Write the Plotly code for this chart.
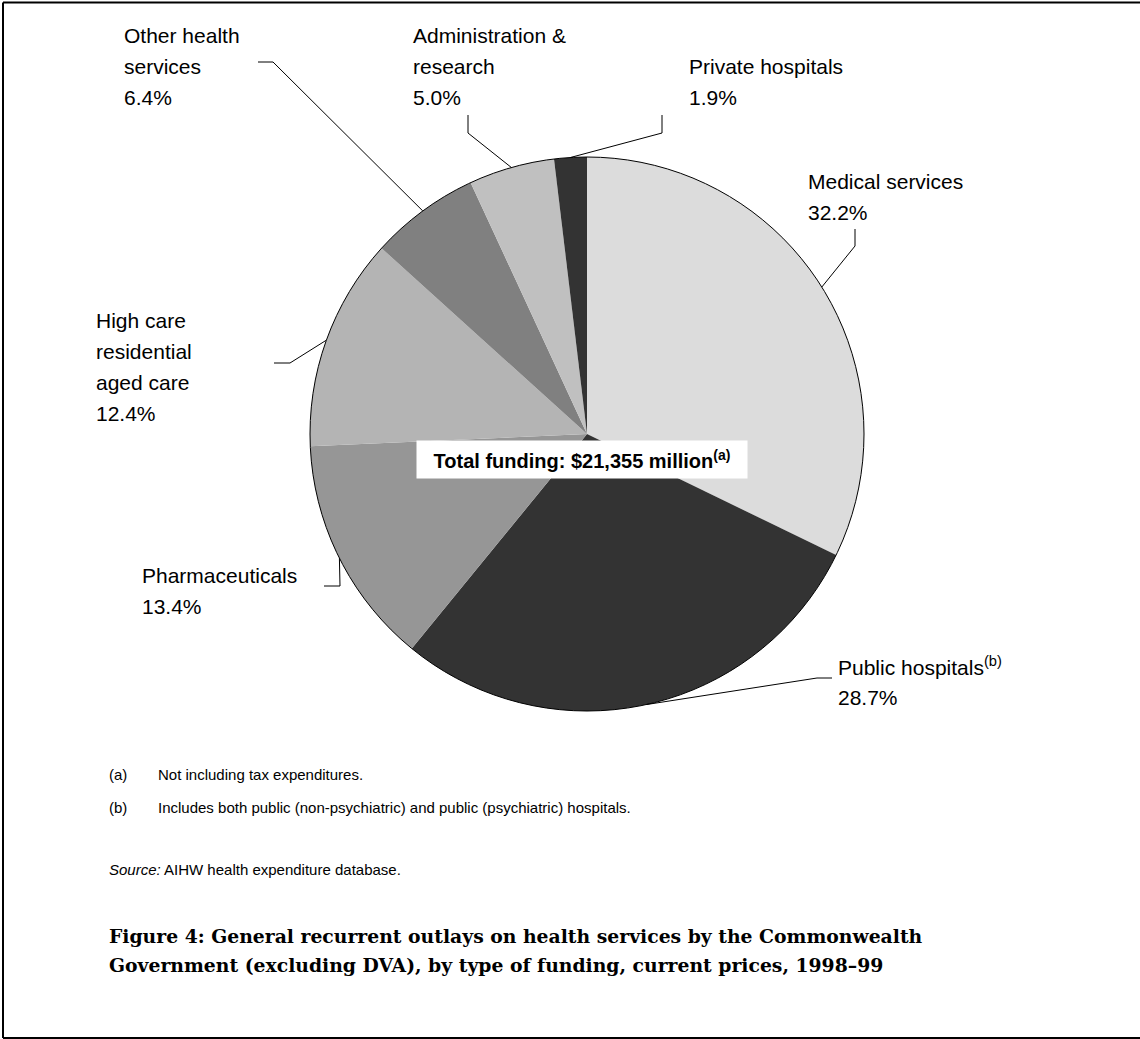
import math
import plotly.graph_objects as go

# ── Data ─────────────────────────────────────────────────────────────────────
categories = [
    "Medical services", "Public hospitals", "Pharmaceuticals",
    "High care residential aged care", "Other health services",
    "Administration & research", "Private hospitals",
]
shares = [32.2, 28.7, 13.4, 12.4, 6.4, 5.0, 1.9]
colors = ["#dcdcdc", "#333333", "#969696", "#b4b4b4", "#808080", "#c0c0c0", "#333333"]

label_lines = [
    ["Medical services"],
    ["Public hospitals<sup>(b)</sup>"],
    ["Pharmaceuticals"],
    ["High care", "residential", "aged care"],
    ["Other health", "services"],
    ["Administration &", "research"],
    ["Private hospitals"],
]

# ── Page geometry (pixels) ──────────────────────────────────────────────────
W, H = 1140, 1039
CX, CY, R = 587, 434, 277
LINE_H = 31
FONT = "Liberation Sans, Arial, sans-serif"
SERIF = "DejaVu Serif, serif"

# label placement: text left x, first line centre y, leader elbow, leader end
label_pos = [
    dict(x=806, y=181, elbow=(855, 246), end=(855, 229)),
    dict(x=836, y=666, elbow=(817, 678), end=(832, 678)),
    dict(x=140, y=575, elbow=(340, 586), end=(324, 586)),
    dict(x=94, y=320, elbow=(290, 363), end=(274, 363)),
    dict(x=122, y=36, elbow=(273, 62), end=(258, 62)),
    dict(x=411, y=36, elbow=(468, 133), end=(468, 115)),
    dict(x=687, y=67, elbow=(662, 133), end=(662, 115)),
]


def px(x):
    return x / W


def py(y):
    return 1 - y / H


fig = go.Figure(go.Pie(
    labels=categories,
    values=shares,
    sort=False,
    direction="clockwise",
    rotation=0,
    marker=dict(colors=colors, line=dict(width=0)),
    textinfo="none",
    hoverinfo="label+percent",
    showlegend=False,
    domain=dict(x=[px(CX - R), px(CX + R)], y=[py(CY + R), py(CY - R)]),
))

shapes = []
annotations = []

# outer outline of the pie
shapes.append(dict(type="circle", xref="paper", yref="paper",
                   x0=px(CX - R), x1=px(CX + R), y0=py(CY + R), y1=py(CY - R),
                   line=dict(color="black", width=1)))

# leader lines + labels
total = sum(shares)
cum = 0
for name, val, lines, pos in zip(categories, shares, label_lines, label_pos):
    mid = (cum + val / 2) / total * 360
    cum += val
    ex = CX + R * math.sin(math.radians(mid))
    ey = CY - R * math.cos(math.radians(mid))
    (bx, by), (tx, ty) = pos["elbow"], pos["end"]
    shapes.append(dict(
        type="path", xref="paper", yref="paper",
        path=f"M {px(ex)},{py(ey)} L {px(bx)},{py(by)} L {px(tx)},{py(ty)}",
        line=dict(color="black", width=1),
    ))
    for i, txt in enumerate(lines + [f"{val:.1f}%"]):
        annotations.append(dict(
            text=txt, x=px(pos["x"]), y=py(pos["y"] + i * LINE_H),
            xref="paper", yref="paper", xanchor="left", yanchor="middle",
            showarrow=False, font=dict(family=FONT, size=21, color="black"),
        ))

# centre label
annotations.append(dict(
    text="<b>Total funding: $21,355 million<sup>(a)</sup></b>",
    x=px(582), y=py(459.5), xref="paper", yref="paper",
    xanchor="center", yanchor="middle", showarrow=False,
    bgcolor="white", width=322, height=29, borderpad=4,
    font=dict(family=FONT, size=20, color="black"),
))

# footnotes
notes = [("(a)", "Not including tax expenditures.", 774),
         ("(b)", "Includes both public (non-psychiatric) and public (psychiatric) hospitals.", 807)]
for tag, txt, y in notes:
    annotations.append(dict(text=tag, x=px(107), y=py(y), xref="paper", yref="paper",
                            xanchor="left", yanchor="middle", showarrow=False,
                            font=dict(family=FONT, size=15, color="black")))
    annotations.append(dict(text=txt, x=px(156), y=py(y), xref="paper", yref="paper",
                            xanchor="left", yanchor="middle", showarrow=False,
                            font=dict(family=FONT, size=15, color="black")))

annotations.append(dict(text="<i>Source:</i> AIHW health expenditure database.",
                        x=px(107), y=py(869), xref="paper", yref="paper",
                        xanchor="left", yanchor="middle", showarrow=False,
                        font=dict(family=FONT, size=15, color="black")))

titles = ["Figure 4: General recurrent outlays on health services by the Commonwealth",
          "Government (excluding DVA), by type of funding, current prices, 1998\u201399"]
for i, t in enumerate(titles):
    annotations.append(dict(text=f"<b>{t}</b>", x=px(107), y=py(936 + i * 29),
                            xref="paper", yref="paper", xanchor="left", yanchor="middle",
                            showarrow=False, font=dict(family=SERIF, size=18.8, color="black")))

# page frame (top, left, bottom)
for x0, y0, x1, y1 in [(3, 2.5, W, 2.5), (3, 2.5, 3, 1038), (3, 1038, W, 1038)]:
    shapes.append(dict(type="line", xref="paper", yref="paper",
                       x0=px(x0), y0=py(y0), x1=px(x1), y1=py(y1),
                       line=dict(color="black", width=2)))

fig.update_layout(
    width=W, height=H,
    margin=dict(l=0, r=0, t=0, b=0),
    paper_bgcolor="white", plot_bgcolor="white",
    shapes=shapes, annotations=annotations,
)

# the page's default body margin would shift the figure by 8px
fig.write_html("out.html", config={"displayModeBar": False},
               post_script="document.body.style.margin='0';")
